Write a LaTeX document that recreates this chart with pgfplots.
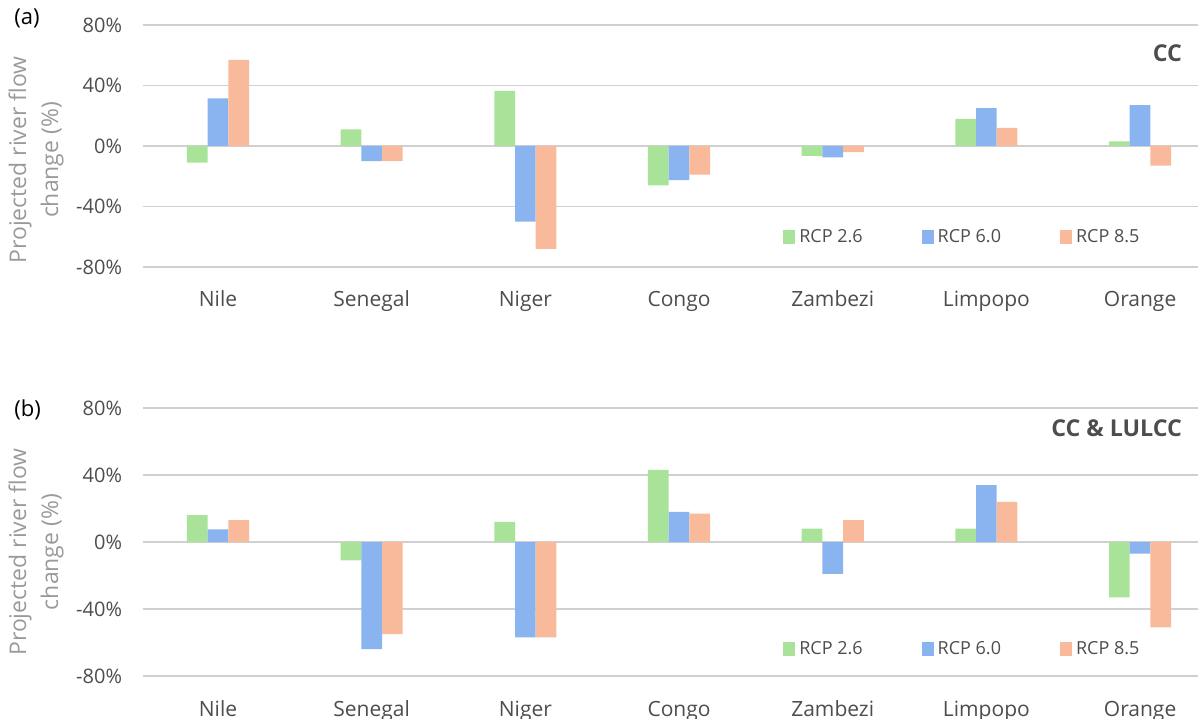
\documentclass[border=0pt]{standalone}
\usepackage{pgfplots}
\pgfplotsset{compat=1.18}
\usepackage{pgfplotstable}
\usepackage{fontspec}
\setmainfont{Open Sans}

\definecolor{rcpA}{HTML}{A9E39A}
\definecolor{rcpB}{HTML}{8AB4F0}
\definecolor{rcpC}{HTML}{F9BA9C}
\definecolor{gridgray}{HTML}{D0D0D0}
\definecolor{txt}{HTML}{4D4D4D}
\definecolor{ylab}{HTML}{9A9A9A}

% projected change in river flow (%), climate change only
\pgfplotstableread{
x  r26   r60   r85
0  -11   31.5  57
1  11    -10   -10
2  36.5  -50   -68
3  -26   -22.5 -19
4  -6.5  -7.5  -4
5  18    25    12
6  3     27    -13
}\ccdata

% projected change in river flow (%), climate and land-use change
\pgfplotstableread{
x  r26   r60   r85
0  16    7.5   13
1  -11   -64   -55
2  12    -57   -57
3  43    18    17
4  8     -19   13
5  8     34    24
6  -33   -7    -51
}\lulccdata

\pgfplotsset{
  riverpanel/.style={
    scale only axis,
    width=527.5bp,
    xmin=-0.488, xmax=6.377,
    ymin=-80, ymax=80,
    ybar=0pt,
    bar width=10.35bp,
    axis line style={draw=none},
    major tick length=0pt,
    ymajorgrids,
    grid style={gridgray, line width=0.9bp},
    ytick={-80,-40,0,40,80},
    yticklabels={-80\%,-40\%,0\%,40\%,80\%},
    yticklabel style={font=\fontsize{10bp}{12bp}\selectfont, text=txt, anchor=east, xshift=-7bp},
    xtick={0,...,6},
    xticklabels={Nile,Senegal,Niger,Congo,Zambezi,Limpopo,Orange},
    xticklabel style={font=\fontsize{10.5bp}{12bp}\selectfont, text=txt, anchor=base, yshift=-20bp},
    every axis y label/.style={at={(axis description cs:0,0.5)}, rotate=90, anchor=center,
      align=center, yshift=53.5bp, font=\fontsize{11.5bp}{16bp}\selectfont, text=ylab},
    ylabel={Projected river flow\\change (\%)},
    legend columns=3,
    legend style={draw=none, fill=none, inner sep=0pt, anchor=west,
      font=\fontsize{9bp}{10bp}\selectfont, text=txt,
      /tikz/every even column/.append style={column sep=27.5bp}},
    legend image code/.code={\fill[##1, draw=none] (0bp,-3.5bp) rectangle (6bp,3.5bp);},
    clip=false,
  },
}

\begin{document}
\begin{tikzpicture}
\path[use as bounding box] (0,0) rectangle (599bp,359.5bp);

% (a) climate change
\begin{axis}[riverpanel, height=121bp, at={(71.5bp,226bp)}, anchor=south west,
  ylabel style={xshift=-7bp},
  legend style={at={(axis description cs:0.6066,0.124)}}]
\addplot[fill=rcpA, draw=none] table[x=x, y=r26] {\ccdata};
\addplot[fill=rcpB, draw=none] table[x=x, y=r60] {\ccdata};
\addplot[fill=rcpC, draw=none] table[x=x, y=r85] {\ccdata};
\legend{RCP 2.6, RCP 6.0, RCP 8.5}
\end{axis}

% (b) climate and land-use/land-cover change
\begin{axis}[riverpanel, height=134bp, at={(71.5bp,21.5bp)}, anchor=south west,
  ylabel style={xshift=-5bp},
  legend style={at={(axis description cs:0.6066,0.1007)}}]
\addplot[fill=rcpA, draw=none] table[x=x, y=r26] {\lulccdata};
\addplot[fill=rcpB, draw=none] table[x=x, y=r60] {\lulccdata};
\addplot[fill=rcpC, draw=none] table[x=x, y=r85] {\lulccdata};
\legend{RCP 2.6, RCP 6.0, RCP 8.5}
\end{axis}

\node[anchor=east, font=\bfseries\fontsize{11.6bp}{14bp}\selectfont, text=txt] at (594.5bp,333bp) {CC};
\node[anchor=east, font=\bfseries\fontsize{11.6bp}{14bp}\selectfont, text=txt] at (594.5bp,145.5bp) {CC \& LULCC};
\node[anchor=west, inner sep=0pt, font=\fontsize{11bp}{13bp}\selectfont] at (7bp,350.5bp) {(a)};
\node[anchor=west, inner sep=0pt, font=\fontsize{11bp}{13bp}\selectfont] at (7bp,154.5bp) {(b)};
\end{tikzpicture}
\end{document}
